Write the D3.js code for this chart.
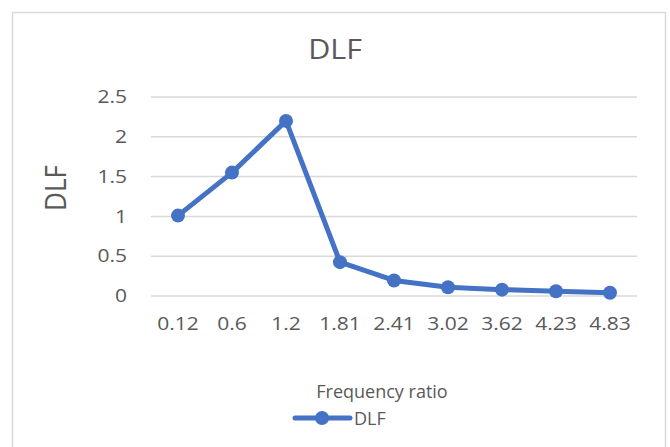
<!DOCTYPE html>
<html><head><meta charset="utf-8">
<script src="https://cdn.jsdelivr.net/npm/d3@7"></script>
<style>body{margin:0;background:#fff}svg{display:block}</style>
</head><body>
<script>
const categories = ["0.12","0.6","1.2","1.81","2.41","3.02","3.62","4.23","4.83"];
const dlfValues = [1.01, 1.55, 2.2, 0.425, 0.195, 0.11, 0.08, 0.06, 0.04];
const yTicks = [0, 0.5, 1, 1.5, 2, 2.5];
const title = "DLF";
const xTitle = "Frequency ratio";
const yTitle = "DLF";
const seriesName = "DLF";

const W = 670, H = 447;
const font = "'Open Sans', sans-serif";
const svg = d3.select("body").append("svg").attr("width", W).attr("height", H);
svg.append("rect").attr("width", W).attr("height", H).attr("fill", "#fff");
svg.append("rect").attr("x", 12.5).attr("y", 12.5).attr("width", 653).attr("height", 450)
  .attr("fill", "#fff").attr("stroke", "#d9d9d9").attr("stroke-width", 1.5);

const plot = {left: 151, right: 637, top: 97, bottom: 296};
const x = d3.scaleBand().domain(categories).range([plot.left, plot.right]);
const y = d3.scaleLinear().domain([0, 2.5]).range([plot.bottom, plot.top]);

// gridlines
svg.append("g").selectAll("line").data(yTicks).join("line")
  .attr("x1", plot.left).attr("x2", plot.right)
  .attr("y1", d => y(d)).attr("y2", d => y(d))
  .attr("stroke", "#d9d9d9").attr("stroke-width", 1.5);

// y axis labels
const yAxis = d3.axisLeft(y).tickValues(yTicks).tickSize(0).tickPadding(0).tickFormat(d => String(d));
const gy = svg.append("g").attr("transform", `translate(127,0)`).call(yAxis);
gy.select(".domain").remove();
gy.selectAll("text").attr("font-family", font).attr("font-size", 17.5).attr("fill", "#595959")
  .attr("transform", "scale(1.2,1)");

// x axis labels
const xAxis = d3.axisBottom(x).tickSize(0).tickPadding(0);
const gx = svg.append("g").attr("transform", `translate(0,${plot.bottom + 22})`).call(xAxis);
gx.select(".domain").remove();
gx.selectAll("text").attr("font-family", font).attr("font-size", 17.5).attr("fill", "#595959")
  .attr("transform", "scale(1.2,1)");

// line
const cx = d => x(d) + x.bandwidth() / 2;
const line = d3.line().x((d, i) => cx(categories[i])).y(d => y(d));
svg.append("path").datum(dlfValues).attr("d", line)
  .attr("fill", "none").attr("stroke", "#4472C4").attr("stroke-width", 5)
  .attr("stroke-linejoin", "round");
svg.append("g").selectAll("circle").data(dlfValues).join("circle")
  .attr("cx", (d, i) => cx(categories[i])).attr("cy", d => y(d)).attr("r", 7)
  .attr("fill", "#4472C4");

// titles
svg.append("text").attr("transform", "translate(335,59) scale(1.15,1)").attr("text-anchor", "middle")
  .attr("font-family", font).attr("font-size", 26.5).attr("fill", "#595959").text(title);
svg.append("text").attr("transform", `translate(66,188) rotate(-90) scale(1,1.15)`).attr("text-anchor", "middle")
  .attr("font-family", font).attr("font-size", 26).attr("fill", "#595959").text(yTitle);
svg.append("text").attr("x", 382).attr("y", 398).attr("text-anchor", "middle")
  .attr("font-family", font).attr("font-size", 18).attr("fill", "#595959").text(xTitle);

// legend
const lg = svg.append("g");
lg.append("line").attr("x1", 295).attr("x2", 350).attr("y1", 418).attr("y2", 418)
  .attr("stroke", "#4472C4").attr("stroke-width", 5).attr("stroke-linecap", "round");
lg.append("circle").attr("cx", 322).attr("cy", 418).attr("r", 7).attr("fill", "#4472C4");
lg.append("text").attr("x", 354).attr("y", 425).attr("font-family", font).attr("font-size", 18)
  .attr("fill", "#595959").text(seriesName);
</script>
</body></html>
